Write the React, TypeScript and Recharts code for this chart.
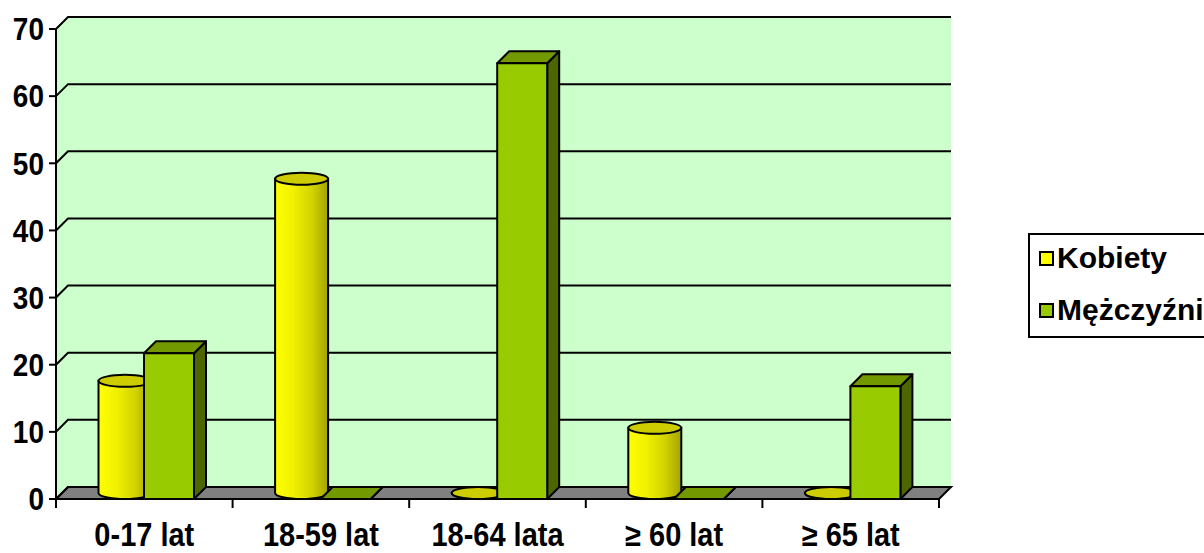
import { BarChart, Bar, XAxis, YAxis, CartesianGrid, Legend } from "recharts";

const categories = ["0-17 lat", "18-59 lat", "18-64 lata", "≥ 60 lat", "≥ 65 lat"];
const kobiety = [16.7, 46.8, 0, 9.7, 0];
const mezczyzni = [21.7, 0, 64.9, 0, 16.8];
const yTicks = [0, 10, 20, 30, 40, 50, 60, 70];

const data = categories.map((name, i) => ({ name, kobiety: kobiety[i], mezczyzni: mezczyzni[i] }));

const W = 1204;
const H = 553;
const FONT = '"Liberation Sans", Arial, Helvetica, sans-serif';
const DEPTH = 12;
// plot area (front plane)
const PL = 56;
const PR = 939;
const PT = 29;
const PB = 499;
const STRETCH = 1.12;

function Cylinder(props: any) {
  const { x, y, width, height } = props;
  const cx = x + width / 2 + DEPTH / 2;
  const rx = width / 2 + 1.5;
  const ry = 6;
  const top = y - DEPTH / 2;
  const bot = y + height - DEPTH / 2;
  return (
    <g>
      <path
        d={`M${cx - rx},${top} L${cx - rx},${bot} A${rx},${ry} 0 0 0 ${cx + rx},${bot} L${cx + rx},${top} Z`}
        fill="url(#cylGrad)"
        stroke="#000"
        strokeWidth={2}
      />
      <ellipse cx={cx} cy={top} rx={rx} ry={ry} fill="#CCCC00" stroke="#000" strokeWidth={2} />
    </g>
  );
}

function Box(props: any) {
  const { x, y, width: w, height: h } = props;
  const d = DEPTH;
  return (
    <g stroke="#000" strokeWidth={2} strokeLinejoin="round">
      <polygon points={`${x + w},${y} ${x + w + d},${y - d} ${x + w + d},${y + h - d} ${x + w},${y + h}`} fill="#4D6600" />
      <polygon points={`${x},${y} ${x + d},${y - d} ${x + w + d},${y - d} ${x + w},${y}`} fill="#739900" />
      {h > 0 && <rect x={x} y={y} width={w} height={h} fill="#99CC00" />}
    </g>
  );
}

function XTick(props: any) {
  const { x, y, payload, index } = props;
  const half = payload?.offset ?? (PR - PL) / categories.length / 2;
  return (
    <g>
      <line x1={x - half} y1={y} x2={x - half} y2={y + 9} stroke="#000" strokeWidth={2} />
      {index === categories.length - 1 && (
        <line x1={x + half} y1={y} x2={x + half} y2={y + 9} stroke="#000" strokeWidth={2} />
      )}
      <text
        transform={`translate(${x},${y + 47}) scale(1,${STRETCH})`}
        textAnchor="middle"
        fontSize={29}
        fontWeight="bold"
        fontFamily={FONT}
        fill="#000"
      >
        {payload.value}
      </text>
    </g>
  );
}

function YTick(props: any) {
  const { x, y, payload } = props;
  return (
    <text
      transform={`translate(${x + 1},${y}) scale(1,${STRETCH})`}
      textAnchor="end"
      dy="0.36em"
      fontSize={28}
      fontWeight="bold"
      fontFamily={FONT}
      fill="#000"
    >
      {payload.value}
    </text>
  );
}

function GridLine(p: any) {
  return (
    <path
      key={p.key}
      d={`M${p.x1},${p.y1} L${p.x1 + DEPTH},${p.y1 - DEPTH} L${p.x2 + DEPTH},${p.y1 - DEPTH}`}
      fill="none"
      stroke="#000"
      strokeWidth={2}
    />
  );
}

function renderLegend(p: any) {
  const items = p.payload || [];
  return (
    <div
      style={{
        boxSizing: "border-box",
        width: 260,
        height: 105,
        border: "2px solid #000",
        background: "#fff",
        position: "relative",
      }}
    >
      {items.map((e: any, i: number) => (
        <div
          key={i}
          style={{
            position: "absolute",
            left: 9,
            top: 9 + i * 52,
            height: 28,
            display: "flex",
            alignItems: "center",
            whiteSpace: "nowrap",
          }}
        >
          <span
            style={{
              display: "inline-block",
              flex: "none",
              boxSizing: "border-box",
              width: 15,
              height: 15,
              border: "2px solid #000",
              background: e.color,
              marginRight: 3,
            }}
          />
          <span style={{ fontFamily: FONT, fontWeight: "bold", fontSize: 30, lineHeight: "28px", color: "#000" }}>
            {e.value}
          </span>
        </div>
      ))}
    </div>
  );
}

export default function App() {
  return (
    <div style={{ position: "absolute", left: 0, top: 0, width: W, height: H, overflow: "hidden", background: "#fff" }}>
      <svg width={W} height={H} style={{ position: "absolute", left: 0, top: 0 }}>
        <polygon points={`${PL},${PT} ${PL + DEPTH},${PT - DEPTH} ${PL + DEPTH},${PB - DEPTH} ${PL},${PB}`} fill="#CCFFCC" />
        <rect x={PL + DEPTH} y={PT - DEPTH} width={PR - PL} height={PB - PT} fill="#CCFFCC" />
        <polygon
          points={`${PL},${PB} ${PR},${PB} ${PR + DEPTH},${PB - DEPTH} ${PL + DEPTH},${PB - DEPTH}`}
          fill="#808080"
          stroke="#000"
          strokeWidth={2}
        />
      </svg>
      <div style={{ position: "absolute", left: 0, top: 0 }}>
        <BarChart
          width={W}
          height={H}
          data={data}
          margin={{ top: PT, right: W - PR, left: 0, bottom: 0 }}
          barCategoryGap={38}
          barGap={0}
        >
          <defs>
            <linearGradient id="cylGrad" x1="0" y1="0" x2="1" y2="0">
              <stop offset="0%" stopColor="#FFFF00" />
              <stop offset="35%" stopColor="#F0F000" />
              <stop offset="70%" stopColor="#D2D200" />
              <stop offset="100%" stopColor="#A3A300" />
            </linearGradient>
          </defs>
          <CartesianGrid vertical={false} horizontal={GridLine} />
          <XAxis
            dataKey="name"
            height={H - PB}
            interval={0}
            tickLine={false}
            tickSize={0}
            tickMargin={0}
            axisLine={{ stroke: "#000", strokeWidth: 2 }}
            tick={<XTick />}
          />
          <YAxis
            type="number"
            domain={[0, 70]}
            ticks={yTicks}
            interval={0}
            width={PL}
            tickSize={7}
            tickMargin={6}
            axisLine={{ stroke: "#000", strokeWidth: 2 }}
            tickLine={{ stroke: "#000", strokeWidth: 2 }}
            tick={<YTick />}
          />
          <Legend
            layout="horizontal"
            align="center"
            verticalAlign="middle"
            wrapperStyle={{ left: 1028, top: 233, width: 260, height: 105 }}
            content={renderLegend}
          />
          <Bar dataKey="kobiety" name="Kobiety" fill="#FFFF00" isAnimationActive={false} shape={(p: any) => <Cylinder {...p} />} />
          <Bar dataKey="mezczyzni" name="Mężczyźni" fill="#99CC00" isAnimationActive={false} shape={(p: any) => <Box {...p} />} />
        </BarChart>
      </div>
    </div>
  );
}
